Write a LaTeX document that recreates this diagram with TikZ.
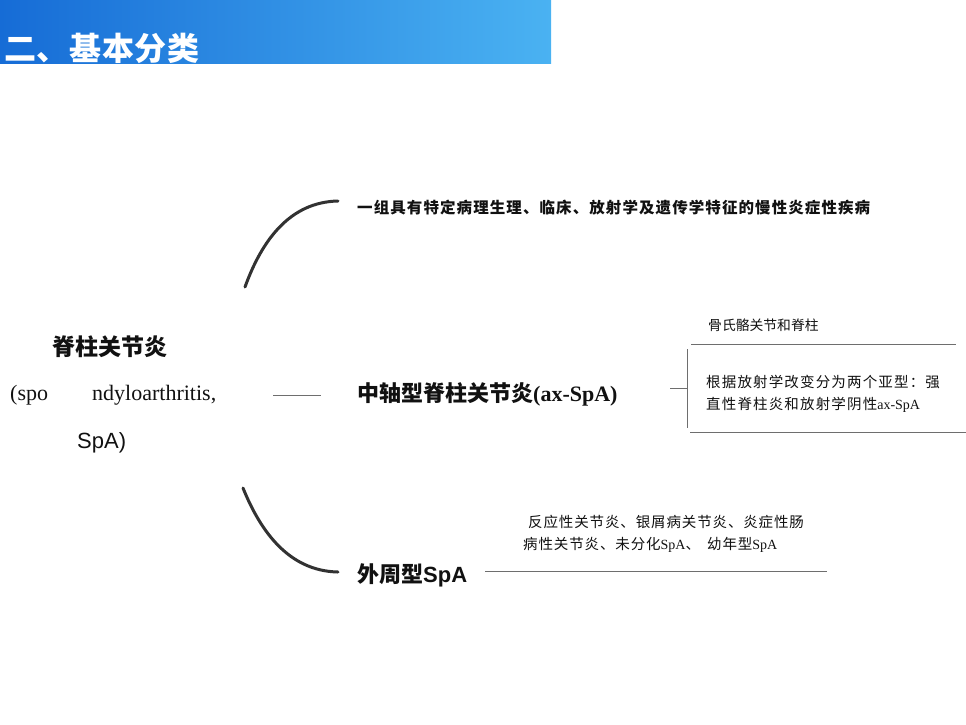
\documentclass[tikz,border=0pt]{standalone}
\usepackage{fontspec}
\setmainfont{Liberation Serif}
\setsansfont{Liberation Sans}
\newfontfamily\cjk{Noto Sans CJK SC}
\newfontfamily\cjkdef{Noto Sans CJK SC}[LetterSpace=7]
\newfontfamily\cjkax{Noto Sans CJK SC}[LetterSpace=8]
\newfontfamily\cjkper{Noto Sans CJK SC}[LetterSpace=6]
\newfontfamily\cjktitle{Noto Sans CJK SC}[LetterSpace=2]
\definecolor{hdrL}{RGB}{22,108,214}
\definecolor{hdrR}{RGB}{74,178,242}
\definecolor{ink}{RGB}{17,17,17}
\definecolor{rule}{RGB}{110,110,110}
\definecolor{curvec}{RGB}{50,50,50}
\tikzset{
  lbl/.style={inner sep=0pt, text=ink},
  thinrule/.style={draw=rule, line width=0.8pt},
  bracecurve/.style={draw=curvec, line width=3pt, line cap=round},
}
\begin{document}
\begin{tikzpicture}[x=1pt,y=-1pt]
\useasboundingbox (0,0) rectangle (966,724);
\fill[white] (0,0) rectangle (966,724);
\shade[left color=hdrL, right color=hdrR] (0,0) rectangle (551,63);
\node[inner sep=0pt, anchor=west, text=white, font=\cjktitle\bfseries\fontsize{32}{36}\selectfont] (title) at (4,48) {二、基本分类};

% left root
\node[lbl, anchor=west, font=\cjk\bfseries\fontsize{23}{26}\selectfont] (root) at (52,347) {脊柱关节炎};
\node[lbl, anchor=base west, font=\rmfamily\fontsize{22}{26}\selectfont] (root2a) at (10,400) {(spo};
\node[lbl, anchor=base west, font=\rmfamily\fontsize{22}{26}\selectfont] (root2b) at (92,400) {ndyloarthritis,};
\node[lbl, anchor=base west, font=\sffamily\fontsize{22}{26}\selectfont] (root3) at (77,448) {SpA)};

% curves
\coordinate (c1s) at (245,287);
\coordinate (c1e) at (338,201);
\draw[bracecurve] (c1s) .. controls (262,240) and (290,202) .. (c1e);
\coordinate (c2s) at (243,488);
\coordinate (c2e) at (338,572);
\draw[bracecurve] (c2s) .. controls (260,530) and (288,571) .. (c2e);

% definition
\node[lbl, anchor=west, font=\cjkdef\bfseries\fontsize{15.5}{18}\selectfont] (def) at (357,208) {一组具有特定病理生理、临床、放射学及遗传学特征的慢性炎症性疾病};

% axial
\coordinate (l1a) at (273,395);
\coordinate (l1b) at (321,395);
\draw[thinrule] (l1a) -- (l1b);
\node[lbl, anchor=base west, font=\fontsize{22}{26}\selectfont] (axial) at (357,401) {{\cjk\bfseries 中轴型脊柱关节炎}{\rmfamily\bfseries (ax-SpA)}};

\coordinate (a1) at (670,388);
\coordinate (a2) at (687,388);
\coordinate (v1) at (687,349);
\coordinate (v2) at (687,428);
\coordinate (t1) at (691,344);
\coordinate (t2) at (956,344);
\coordinate (b1) at (690,432);
\coordinate (b2) at (966,432);
\draw[thinrule] (a1) -- (a2);
\draw[thinrule] (v1) -- (v2);
\draw[thinrule] (t1) -- (t2);
\draw[thinrule] (b1) -- (b2);
\node[lbl, anchor=west, font=\cjk\fontsize{13.8}{16}\selectfont] (bone) at (708,325) {骨氏骼关节和脊柱};
\node[lbl, anchor=west, font=\cjkax\fontsize{14.5}{17}\selectfont] (sub1) at (706,382) {根据放射学改变分为两个亚型：强};
\node[lbl, anchor=base west, font=\fontsize{14.5}{17}\selectfont] (sub2) at (706,409.5) {{\cjkax 直性脊柱炎和放射学阴性}{\rmfamily\fontsize{14}{16}\selectfont ax-SpA}};

% peripheral
\node[lbl, anchor=base west, font=\fontsize{22}{26}\selectfont] (peri) at (357,582) {{\cjk\bfseries 外周型}{\sffamily\bfseries SpA}};
\coordinate (p1) at (485,571);
\coordinate (p2) at (827,571);
\draw[thinrule] (p1) -- (p2);
\node[lbl, anchor=west, font=\cjkper\fontsize{14.5}{17}\selectfont] (per1) at (528,522) {反应性关节炎、银屑病关节炎、炎症性肠};
\node[lbl, anchor=base west, font=\fontsize{14.5}{17}\selectfont] (per2) at (523,549.5) {{\cjkper 病性关节炎、未分化}{\rmfamily\fontsize{14}{16}\selectfont SpA}{\cjkper 、 }\hspace{3pt}{\cjkper 幼年型}{\rmfamily\fontsize{14}{16}\selectfont SpA}};
\end{tikzpicture}
\end{document}
